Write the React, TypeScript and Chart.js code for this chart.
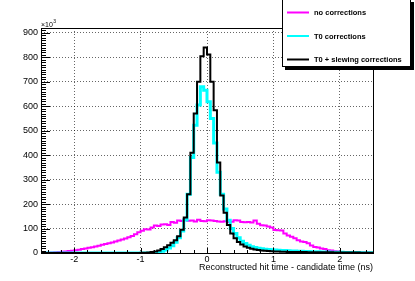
import React, { useEffect, useRef } from "react";
import { Chart, registerables } from "chart.js";

Chart.register(...registerables);

// Histogram binning (ns)
const binLow = -2.5;
const binWidth = 0.05;

// Axis ranges / ticks
const xMin = -2.5;
const xMax = 2.5;
const xTickValues = [-2, -1, 0, 1, 2];
const xMajorStep = 1;
const xMinorStep = 0.2;
const yMin = 0;
const yMax = 920; // in units of 10^3
const yTickValues = [0, 100, 200, 300, 400, 500, 600, 700, 800, 900];
const yMajorStep = 100;
const yMinorStep = 10;

const seriesNames = ["no corrections", "T0 corrections", "T0 + slewing corrections"];
const seriesColors = ["#ff00ff", "#00ffff", "#000000"];
const seriesWidths = [2, 3, 2];

const xTitle = "Reconstructed hit time - candidate time (ns)";

// Bin contents in units of 10^3 entries (100 bins from -2.5 to 2.5 ns)
const noCorrections = [
  0, 1, 1, 2, 3, 4, 5, 6, 8, 9,
  11, 13, 16, 18, 21, 24, 27, 30, 34, 37,
  40, 43, 47, 51, 55, 59, 64, 70, 77, 85,
  91, 97, 96, 104, 112, 110, 117, 118, 115, 127,
  124, 133, 131, 138, 132, 133, 129, 136, 131, 130,
  134, 133, 131, 129, 128, 130, 127, 128, 134, 133,
  127, 126, 127, 125, 133, 120, 113, 112, 108, 104,
  94, 93, 92, 80, 72, 66, 60, 52, 47, 45,
  40, 31, 25, 23, 18, 16, 11, 10, 7, 6,
  4, 4, 3, 2, 2, 2, 1, 1, 1, 0,
];

const t0Corrections = [
  0, 0, 0, 0, 0, 0, 0, 0, 0, 0,
  0, 0, 0, 0, 0, 0, 0, 0, 0, 0,
  0, 0, 0, 0, 0, 0, 0, 0, 0, 0,
  0, 0, 0, 0, 1, 3, 7, 12, 20, 30,
  44, 62, 90, 135, 240, 390, 522, 605, 680, 665,
  618, 550, 450, 330, 240, 180, 134, 100, 80, 62,
  48, 39, 32, 26, 22, 19, 17, 15, 14, 13,
  12, 11, 10, 10, 9, 8, 8, 7, 7, 6,
  6, 5, 5, 5, 4, 4, 4, 3, 3, 3,
  3, 2, 2, 2, 2, 2, 1, 1, 1, 1,
];

const t0SlewingCorrections = [
  0, 0, 0, 0, 0, 0, 0, 0, 0, 0,
  0, 0, 0, 0, 0, 0, 0, 0, 0, 0,
  0, 0, 0, 0, 0, 0, 0, 0, 0, 0,
  1, 1, 2, 4, 6, 10, 16, 24, 32, 42,
  52, 68, 95, 145, 240, 410, 570, 700, 805, 840,
  812, 700, 584, 370, 235, 165, 115, 80, 60, 45,
  35, 27, 21, 17, 14, 12, 10, 9, 8, 7,
  6, 6, 5, 5, 4, 4, 4, 4, 4, 4,
  3, 3, 3, 3, 3, 3, 3, 3, 2, 2,
  2, 2, 2, 2, 2, 2, 1, 1, 1, 1,
];

const seriesValues = [noCorrections, t0Corrections, t0SlewingCorrections];

const FONT = "'Liberation Sans', Arial, Helvetica, sans-serif";

export default function App() {
  const ref = useRef<HTMLCanvasElement>(null);

  useEffect(() => {
    document.body.style.margin = "0";
    const canvas = ref.current;
    if (!canvas) return;

    const toPoints = (vals: number[]) => {
      const pts = vals.map((v, i) => ({ x: binLow + i * binWidth, y: v }));
      pts.push({ x: binLow + vals.length * binWidth, y: vals[vals.length - 1] });
      return pts;
    };

    const decor = {
      id: "rootDecor",
      afterDatasetsDraw(chart: any) {
        const { ctx, chartArea: a, scales } = chart;
        const xs = scales.x;
        const ys = scales.y;
        ctx.save();
        ctx.strokeStyle = "#000";
        ctx.lineWidth = 1;
        const L = Math.round(a.left);
        const R = Math.round(a.right);
        const T = Math.round(a.top);
        const B = Math.round(a.bottom);
        ctx.strokeRect(L + 0.5, T + 0.5, R - L, B - T);
        ctx.beginPath();
        for (let k = 0; k * yMinorStep <= yMax; k++) {
          const v = yMin + k * yMinorStep;
          const y = Math.round(ys.getPixelForValue(v)) + 0.5;
          const len = v % yMajorStep === 0 ? 9 : 5;
          ctx.moveTo(L, y);
          ctx.lineTo(L + len, y);
        }
        const k0 = Math.ceil(xMin / xMinorStep - 1e-9);
        for (let k = k0; k * xMinorStep <= xMax + 1e-9; k++) {
          const v = k * xMinorStep;
          const x = Math.round(xs.getPixelForValue(v)) + 0.5;
          const major = Math.abs(v / xMajorStep - Math.round(v / xMajorStep)) < 1e-6;
          const len = major ? 5 : 3;
          ctx.moveTo(x, B);
          ctx.lineTo(x, B - len);
        }
        ctx.stroke();
        ctx.restore();
      },
      afterDraw(chart: any) {
        const { ctx, chartArea: a } = chart;
        ctx.save();
        // exponent label
        ctx.fillStyle = "#000";
        ctx.textBaseline = "alphabetic";
        ctx.textAlign = "left";
        ctx.font = `7px ${FONT}`;
        ctx.fillText("\u00d710", a.left, a.top - 1.5);
        const w = ctx.measureText("\u00d710").width;
        ctx.font = `5px ${FONT}`;
        ctx.fillText("3", a.left + w + 0.3, a.top - 5);

        // legend box with shadow
        const bx = 282, by = -1, bw = 129, bh = 68;
        ctx.fillStyle = "#000";
        ctx.fillRect(bx + 3, by + 3, bw, bh);
        ctx.fillStyle = "#fff";
        ctx.fillRect(bx, by, bw, bh);
        ctx.strokeStyle = "#000";
        ctx.lineWidth = 1;
        ctx.strokeRect(bx + 0.5, by + 0.5, bw - 1, bh - 1);
        const rows = [12.5, 36, 59.5];
        chart.data.datasets.forEach((ds: any, i: number) => {
          const y = rows[i];
          ctx.strokeStyle = ds.borderColor;
          ctx.lineWidth = 2;
          ctx.beginPath();
          ctx.moveTo(287, y);
          ctx.lineTo(309, y);
          ctx.stroke();
          ctx.fillStyle = "#000";
          ctx.font = `bold 7.5px ${FONT}`;
          ctx.textBaseline = "middle";
          ctx.textAlign = "left";
          ctx.fillText(ds.label, 314, y + 0.5);
        });
        ctx.restore();
      },
    };

    const chart = new Chart(canvas, {
      type: "line",
      data: {
        datasets: seriesValues.map((vals, i) => ({
          label: seriesNames[i],
          data: toPoints(vals),
          borderColor: seriesColors[i],
          backgroundColor: seriesColors[i],
          borderWidth: seriesWidths[i],
          stepped: true,
          pointRadius: 0,
          fill: false,
          tension: 0,
          order: 3 - i,
        })),
      },
      options: {
        responsive: false,
        devicePixelRatio: 1,
        animation: false,
        layout: { padding: { top: 28, right: 42, left: 0, bottom: 0 } },
        plugins: {
          legend: { display: false },
          tooltip: { enabled: false },
          title: { display: false },
        },
        scales: {
          x: {
            type: "linear",
            min: xMin,
            max: xMax,
            afterBuildTicks: (s: any) => {
              s.ticks = xTickValues.map((v) => ({ value: v }));
            },
            afterFit: (s: any) => {
              s.height = 28;
            },
            ticks: {
              padding: 1,
              color: "#000",
              font: { family: FONT, size: 9 },
              maxRotation: 0,
              autoSkip: false,
              callback: (v: any) => String(v),
            },
            grid: { color: "rgba(0,0,0,0.6)", lineWidth: 1, drawTicks: false },
            border: { display: false, dash: [1, 2] },
            title: {
              display: true,
              text: xTitle,
              align: "end",
              color: "#000",
              font: { family: FONT, size: 9 },
              padding: { top: 0, bottom: 7.6 },
            },
          },
          y: {
            type: "linear",
            min: yMin,
            max: yMax,
            afterBuildTicks: (s: any) => {
              s.ticks = yTickValues.map((v) => ({ value: v }));
            },
            afterFit: (s: any) => {
              s.width = 41;
            },
            ticks: {
              padding: 3,
              color: "#000",
              autoSkip: false,
              font: { family: FONT, size: 9 },
              callback: (v: any) => String(v),
            },
            grid: { color: "rgba(0,0,0,0.6)", lineWidth: 1, drawTicks: false },
            border: { display: false, dash: [1, 2] },
          },
        },
      },
      plugins: [decor],
    } as any);

    return () => chart.destroy();
  }, []);

  return (
    <div style={{ width: 415, height: 281, background: "#fff" }}>
      <canvas ref={ref} width={415} height={281} style={{ display: "block" }} />
    </div>
  );
}
